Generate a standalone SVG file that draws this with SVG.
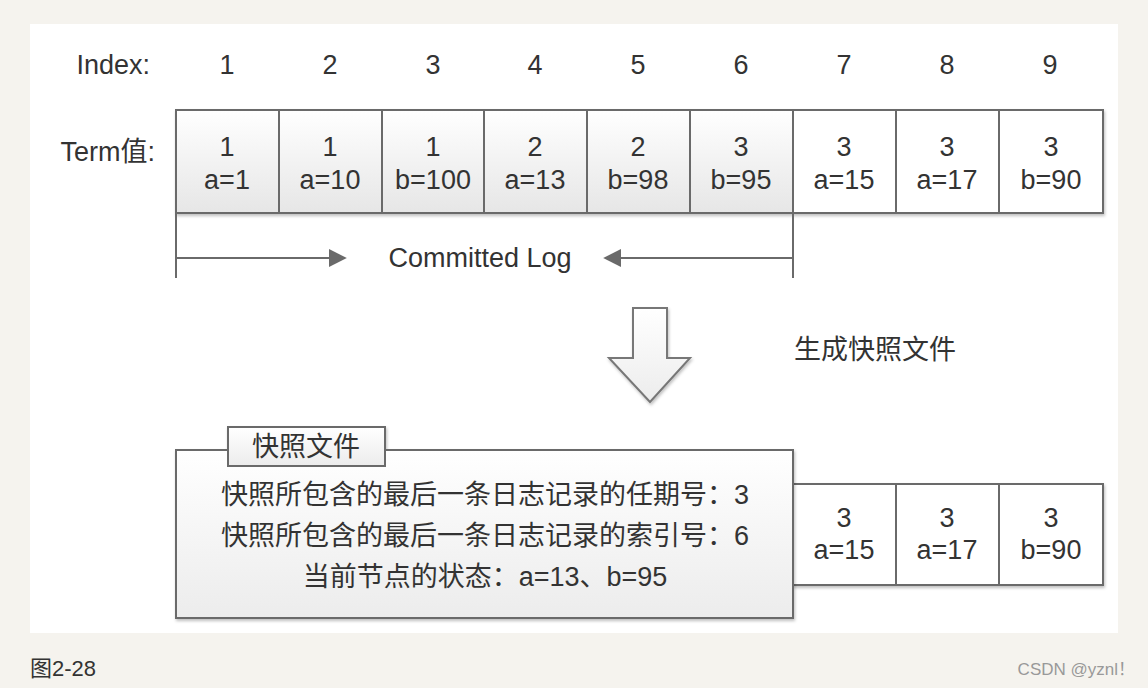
<svg xmlns="http://www.w3.org/2000/svg" width="1148" height="688" viewBox="0 0 1148 688">
<defs>
<linearGradient id="g" x1="0" y1="0" x2="0" y2="1"><stop offset="0" stop-color="#ffffff"/><stop offset="1" stop-color="#e6e6e6"/></linearGradient>
<linearGradient id="g2" x1="0" y1="0" x2="0" y2="1"><stop offset="0" stop-color="#ffffff"/><stop offset="1" stop-color="#ececec"/></linearGradient>
<marker id="ah" viewBox="0 0 10 10" refX="9" refY="5" markerWidth="18" markerHeight="18" markerUnits="userSpaceOnUse" orient="auto"><path d="M0,0 L10,5 L0,10 Z" fill="#6a6a6a"/></marker>
<filter id="sh" x="-5%" y="-5%" width="110%" height="115%"><feDropShadow dx="1" dy="2" stdDeviation="1.5" flood-color="#000" flood-opacity="0.25"/></filter>
</defs>
<style>
text{font-family:"Liberation Sans","Noto Sans CJK SC",sans-serif;fill:#333;font-size:27px;text-anchor:middle}
.c{stroke:#6a6a6a;stroke-width:2}
.ln{stroke:#6a6a6a;stroke-width:2;fill:none}
</style>
<rect x="0" y="0" width="1148" height="688" fill="#f5f3ee"/>
<rect x="30" y="24" width="1088" height="609" fill="#ffffff"/>

<g id="labels">
<text x="150" y="74" style="text-anchor:end">Index:</text>
<text x="155" y="161" style="text-anchor:end">Term值:</text>
<text x="227" y="74">1</text><text x="330" y="74">2</text><text x="433" y="74">3</text>
<text x="535" y="74">4</text><text x="638" y="74">5</text><text x="741" y="74">6</text>
<text x="844" y="74">7</text><text x="947" y="74">8</text><text x="1050" y="74">9</text>
</g>

<g id="log-row" filter="url(#sh)">
<rect class="c" x="176" y="110" width="103" height="103" fill="url(#g)"/>
<rect class="c" x="279" y="110" width="103" height="103" fill="url(#g)"/>
<rect class="c" x="382" y="110" width="102" height="103" fill="url(#g)"/>
<rect class="c" x="484" y="110" width="103" height="103" fill="url(#g)"/>
<rect class="c" x="587" y="110" width="103" height="103" fill="url(#g)"/>
<rect class="c" x="690" y="110" width="103" height="103" fill="url(#g)"/>
<rect class="c" x="793" y="110" width="103" height="103" fill="#fff"/>
<rect class="c" x="896" y="110" width="103" height="103" fill="#fff"/>
<rect class="c" x="999" y="110" width="104" height="103" fill="#fff"/>
</g>
<g id="log-text">
<text x="227" y="156">1</text><text x="227" y="189">a=1</text>
<text x="330" y="156">1</text><text x="330" y="189">a=10</text>
<text x="433" y="156">1</text><text x="433" y="189">b=100</text>
<text x="535" y="156">2</text><text x="535" y="189">a=13</text>
<text x="638" y="156">2</text><text x="638" y="189">b=98</text>
<text x="741" y="156">3</text><text x="741" y="189">b=95</text>
<text x="844" y="156">3</text><text x="844" y="189">a=15</text>
<text x="947" y="156">3</text><text x="947" y="189">a=17</text>
<text x="1051" y="156">3</text><text x="1051" y="189">b=90</text>
</g>

<g id="connectors">
<line class="ln" x1="176" y1="213" x2="176" y2="278"/>
<line class="ln" x1="793" y1="213" x2="793" y2="278"/>
<line class="ln" x1="176" y1="258" x2="345" y2="258" marker-end="url(#ah)"/>
<line class="ln" x1="793" y1="258" x2="605" y2="258" marker-end="url(#ah)"/>
</g>
<text x="480" y="267">Committed Log</text>

<g id="down-arrow" filter="url(#sh)">
<path d="M633,308 L667,308 L667,358 L690,358 L650,402 L609,358 L633,358 Z" fill="url(#g2)" stroke="#777" stroke-width="2"/>
</g>
<text x="875" y="359">生成快照文件</text>

<g id="tail-cells" filter="url(#sh)">
<rect class="c" x="793" y="484" width="103" height="101" fill="#fff"/>
<rect class="c" x="896" y="484" width="103" height="101" fill="#fff"/>
<rect class="c" x="999" y="484" width="104" height="101" fill="#fff"/>
</g>
<g id="tail-text">
<text x="844" y="527">3</text><text x="844" y="559">a=15</text>
<text x="947" y="527">3</text><text x="947" y="559">a=17</text>
<text x="1051" y="527">3</text><text x="1051" y="559">b=90</text>
</g>

<g id="snapshot" filter="url(#sh)">
<rect class="c" x="176" y="450" width="617" height="168" fill="url(#g2)"/>
<rect class="c" x="228" y="427" width="157" height="39" fill="url(#g2)"/>
</g>
<text x="306" y="456">快照文件</text>
<text x="485" y="504">快照所包含的最后一条日志记录的任期号：3</text>
<text x="485" y="545">快照所包含的最后一条日志记录的索引号：6</text>
<text x="485" y="586">当前节点的状态：a=13、b=95</text>

<text x="30" y="676" style="text-anchor:start;font-size:22px">图2-28</text>
<text x="1135" y="675" style="text-anchor:end;font-size:17px;fill:#999">CSDN @yznl！</text>
</svg>
